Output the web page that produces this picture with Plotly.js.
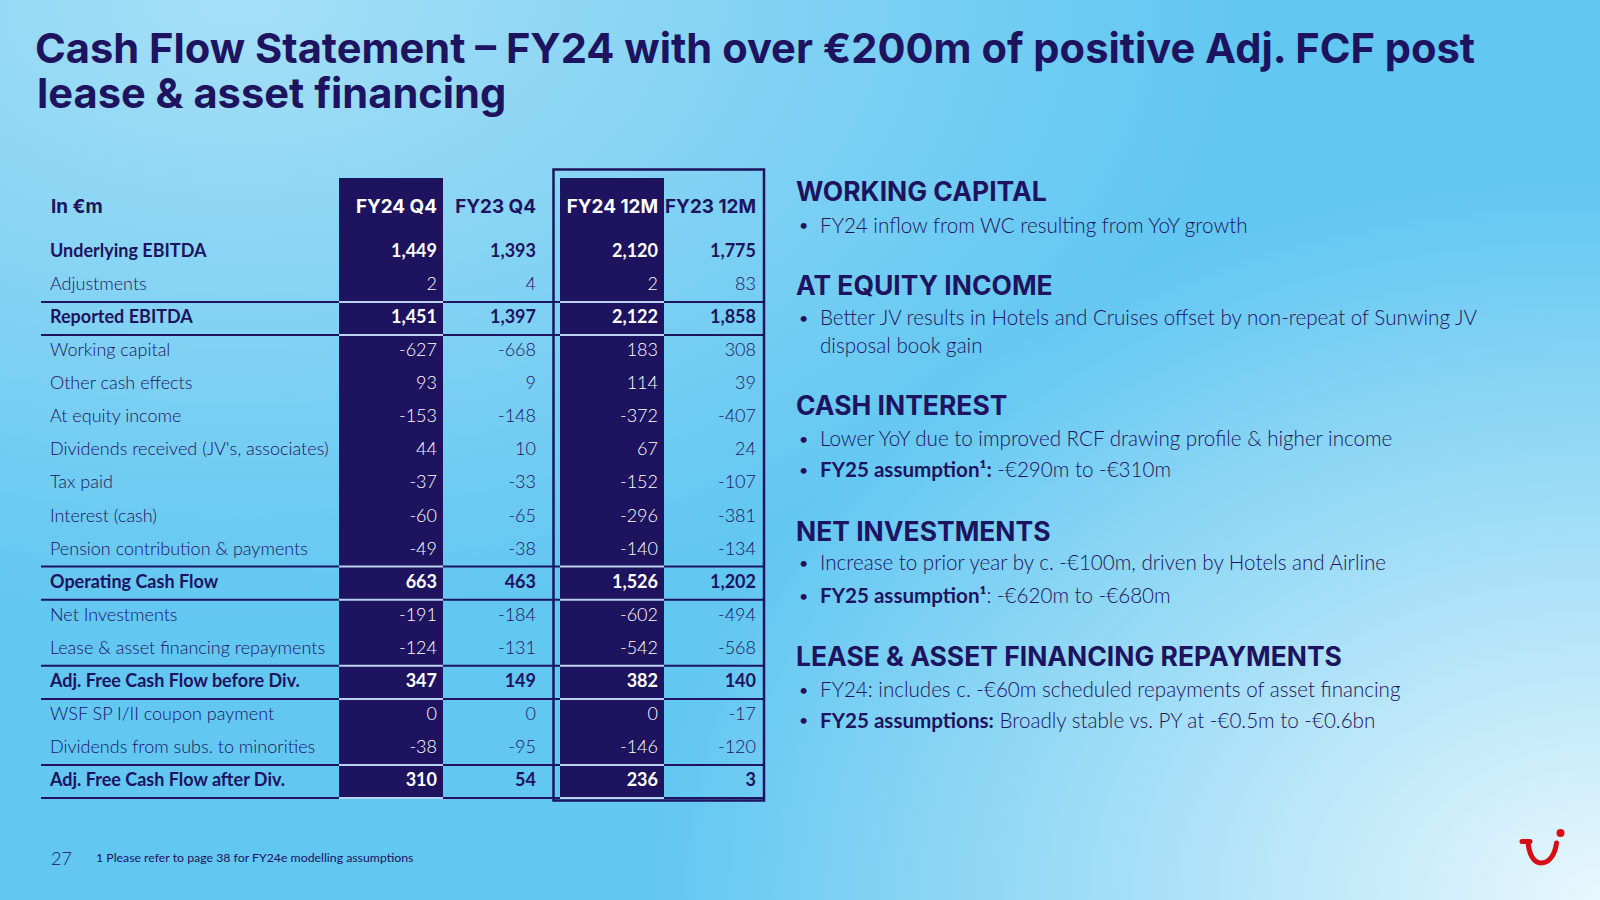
<!DOCTYPE html>
<html>
<head>
<meta charset="utf-8">
<script src="https://cdn.plot.ly/plotly-3.0.1.min.js"></script>
<style>
  html, body { margin: 0; padding: 0; }
  #chart {
    width: 1600px; height: 900px;
    background:
      radial-gradient(ellipse 950px 720px at 100% 100%, rgba(232,247,253,1) 0%, rgba(196,234,250,0.75) 45%, rgba(196,234,250,0) 100%),
      radial-gradient(ellipse 1000px 620px at 15% 0%, rgba(166,223,247,1) 0%, rgba(166,223,247,0) 100%),
      #62c7f1;
  }
</style>
</head>
<body>
<div id="chart"></div>
<script>
// ---------------- DATA ----------------
const cornerLabel = 'In €m';
const colHeaders = ['FY24 Q4', 'FY23 Q4', 'FY24 12M', 'FY23 12M'];
const rowLabels = [
  'Underlying EBITDA', 'Adjustments', 'Reported EBITDA', 'Working capital',
  'Other cash effects', 'At equity income', "Dividends received (JV's, associates)",
  'Tax paid', 'Interest (cash)', 'Pension contribution & payments',
  'Operating Cash Flow', 'Net Investments', 'Lease & asset financing repayments',
  'Adj. Free Cash Flow before Div.', 'WSF SP I/II coupon payment',
  'Dividends from subs. to minorities', 'Adj. Free Cash Flow after Div.'
];
const fy24Q4  = [1449, 2, 1451, -627, 93, -153, 44, -37, -60, -49, 663, -191, -124, 347, 0, -38, 310];
const fy23Q4  = [1393, 4, 1397, -668, 9, -148, 10, -33, -65, -38, 463, -184, -131, 149, 0, -95, 54];
const fy24_12M = [2120, 2, 2122, 183, 114, -372, 67, -152, -296, -140, 1526, -602, -542, 382, 0, -146, 236];
const fy23_12M = [1775, 83, 1858, 308, 39, -407, 24, -107, -381, -134, 1202, -494, -568, 140, -17, -120, 3];
const totalRows = ['Underlying EBITDA', 'Reported EBITDA', 'Operating Cash Flow',
                   'Adj. Free Cash Flow before Div.', 'Adj. Free Cash Flow after Div.'];

const titleLines = ['Cash Flow Statement – FY24 with over €200m of positive Adj. FCF post',
                    'lease & asset financing'];
const noteHeads = ['WORKING CAPITAL', 'AT EQUITY INCOME', 'CASH INTEREST', 'NET INVESTMENTS',
                   'LEASE & ASSET FINANCING REPAYMENTS'];
const noteBullets = [
  ['FY24 inflow from WC resulting from YoY growth'],
  ['Better JV results in Hotels and Cruises offset by non-repeat of Sunwing JV|disposal book gain'],
  ['Lower YoY due to improved RCF drawing profile & higher income',
   '<b>FY25 assumption¹:</b> -€290m to -€310m'],
  ['Increase to prior year by c. -€100m, driven by Hotels and Airline',
   '<b>FY25 assumption¹</b>: -€620m to -€680m'],
  ['FY24: includes c. -€60m scheduled repayments of asset financing',
   '<b>FY25 assumptions:</b> Broadly stable vs. PY at -€0.5m to -€0.6bn']
];
const pageNumber = '27';
const footnote = '1 Please refer to page 38 for FY24e modelling assumptions';

// ---------------- STYLE / LAYOUT ----------------
const NAVY = '#1e135e';
const W = 1600, H = 900;
const ROW_H = 33.07, ROW_TOP0 = 235.9;          // pixel geometry of the table grid
const py = p => (p - ROW_TOP0) / ROW_H - 0.5;     // pixel -> row units
const ppy = p => 1 - p / H;                        // pixel -> paper
const FONT = 'Lato, "Open Sans", sans-serif';
const HEAD_FONT = 'Inter, Lato, sans-serif';
const colRight = [437, 536, 658, 756];             // right edges for numeric text
const darkCols = [[339, 443], [560, 664]];
const lightSegs = [[41, 339], [443, 560], [664, 763]];
const headerY = py(208);

// size a display font so a reference string spans a target width
const ctx = document.createElement('canvas').getContext('2d');
function fitSize(text, weight, family, target) {
  ctx.font = weight + ' 100px ' + family;
  return 100 * target / ctx.measureText(text).width;
}
const titleSize = Math.min(44, Math.max(34, fitSize(titleLines[0], 700, HEAD_FONT, 1442)));
const headSize = Math.min(30, Math.max(22, fitSize(noteHeads[4], 700, HEAD_FONT, 546)));
const colHeadSize = Math.min(20, Math.max(15, fitSize(colHeaders[3], 700, HEAD_FONT, 91)));

const fmt = v => (v < 0 ? '-' : '') + Math.abs(v).toLocaleString('en-US');
const isTotal = rowLabels.map(l => totalRows.includes(l));
const rowIdx = rowLabels.map((_, i) => i);

const traces = [];
// row labels
traces.push({
  type: 'scatter', mode: 'text', x: rowLabels.map(() => 50), y: rowIdx,
  text: rowLabels.map((l, i) => isTotal[i] ? '<b>' + l + '</b>' : l),
  textposition: 'middle right', cliponaxis: false, hoverinfo: 'skip', showlegend: false,
  textfont: { family: FONT, size: 18, color: NAVY, weight: 300 }
});
// numeric columns
const series = [fy24Q4, fy23Q4, fy24_12M, fy23_12M];
series.forEach((vals, c) => {
  const onDark = (c === 0 || c === 2);
  traces.push({
    type: 'scatter', mode: 'text', x: vals.map(() => colRight[c]), y: rowIdx,
    text: vals.map((v, i) => isTotal[i] ? '<b>' + fmt(v) + '</b>' : fmt(v)),
    textposition: 'middle left', cliponaxis: false, hoverinfo: 'skip', showlegend: false,
    textfont: { family: FONT, size: 18, color: onDark ? '#ffffff' : NAVY, weight: 300 }
  });
});
// header row
traces.push({
  type: 'scatter', mode: 'text', x: colRight, y: colHeaders.map(() => headerY),
  text: colHeaders.map(h => '<b>' + h + '</b>'),
  textposition: 'middle left', cliponaxis: false, hoverinfo: 'skip', showlegend: false,
  textfont: { family: HEAD_FONT, size: colHeadSize, color: ['#ffffff', NAVY, '#ffffff', NAVY] }
});
traces.push({
  type: 'scatter', mode: 'text', x: [51], y: [headerY], text: ['<b>' + cornerLabel + '</b>'],
  textposition: 'middle right', cliponaxis: false, hoverinfo: 'skip', showlegend: false,
  textfont: { family: HEAD_FONT, size: colHeadSize, color: NAVY }
});

// shapes: dark columns, separators, box
const shapes = [];
darkCols.forEach(([a, b]) => shapes.push({
  type: 'rect', xref: 'x', yref: 'y', x0: a, x1: b, y0: py(178), y1: rowLabels.length - 0.5,
  fillcolor: NAVY, line: { width: 0 }, layer: 'below'
}));
const sepY = [];
isTotal.forEach((t, i) => { if (t && i > 0) { sepY.push(i - 0.5, i + 0.5); } });
sepY.forEach(y => {
  lightSegs.forEach(([a, b]) => shapes.push({ type: 'line', xref: 'x', yref: 'y', x0: a, x1: b, y0: y, y1: y,
    line: { color: NAVY, width: 2 } }));
  darkCols.forEach(([a, b]) => shapes.push({ type: 'line', xref: 'x', yref: 'y', x0: a, x1: b, y0: y, y1: y,
    line: { color: '#b9d3ee', width: 2 } }));
});
shapes.push({ type: 'rect', xref: 'x', yref: 'y', x0: 553.5, x1: 764, y0: py(169.5), y1: py(800.5),
  line: { color: NAVY, width: 2.5 }, fillcolor: 'rgba(0,0,0,0)' });

// annotations: title line 2, notes, footer
const annotations = [];
annotations.push({ xref: 'x', yref: 'paper', x: 35, y: ppy(93), xanchor: 'left', yanchor: 'middle',
  text: titleLines[1], showarrow: false, font: { family: HEAD_FONT, size: titleSize, color: NAVY, weight: 700 } });

const headY = [191, 285, 405, 531, 656];
const bulletY = [[224.5], [317, 345], [438, 469], [562, 595], [689, 719.5]];
noteHeads.forEach((h, k) => {
  annotations.push({ xref: 'x', yref: 'paper', x: 794, y: ppy(headY[k]), xanchor: 'left', yanchor: 'middle',
    text: '<b>' + h + '</b>', showarrow: false, font: { family: HEAD_FONT, size: headSize, color: NAVY } });
  let li = 0;
  noteBullets[k].forEach(b => {
    b.split('|').forEach((line, j) => {
      const y = ppy(bulletY[k][li]);
      if (j === 0) {
        annotations.push({ xref: 'x', yref: 'paper', x: 797, y: y, xanchor: 'left', yanchor: 'middle',
          text: '•', showarrow: false, font: { family: FONT, size: 16, color: NAVY } });
      }
      annotations.push({ xref: 'x', yref: 'paper', x: 818, y: y, xanchor: 'left', yanchor: 'middle',
        text: line, showarrow: false, font: { family: FONT, size: 20.6, color: NAVY, weight: 300 } });
      li++;
    });
  });
});
annotations.push({ xref: 'x', yref: 'paper', x: 49, y: ppy(858), xanchor: 'left', yanchor: 'middle',
  text: pageNumber, showarrow: false, font: { family: FONT, size: 18, color: NAVY, weight: 300 } });
annotations.push({ xref: 'x', yref: 'paper', x: 94, y: ppy(857), xanchor: 'left', yanchor: 'middle',
  text: footnote, showarrow: false, font: { family: FONT, size: 12.3, color: NAVY } });

// logo
const logoSvg = '<svg xmlns="http://www.w3.org/2000/svg" width="120" height="100" viewBox="0 0 120 100">' +
  '<g fill="none" stroke="#d40e14" stroke-width="5" stroke-linecap="round">' +
  '<line x1="42" y1="41.5" x2="50" y2="41.5"/>' +
  '<path d="M48 41.5 C49 55 54 63 61 63 C69 63 75 55 76.5 43"/></g>' +
  '<circle cx="80.5" cy="33" r="4" fill="#d40e14"/></svg>';

const layout = {
  width: W, height: H,
  margin: { l: 0, r: 0, t: 0, b: 0 },
  paper_bgcolor: 'rgba(0,0,0,0)', plot_bgcolor: 'rgba(0,0,0,0)',
  showlegend: false,
  title: { text: titleLines[0], x: 35 / W, xref: 'paper', xanchor: 'left', y: 1 - 48 / H, yref: 'container',
    yanchor: 'middle', font: { family: HEAD_FONT, size: titleSize, color: NAVY, weight: 700 } },
  xaxis: { range: [0, W], visible: false, fixedrange: true },
  yaxis: { range: [py(H), py(0)], visible: false, fixedrange: true },
  shapes: shapes,
  annotations: annotations,
  images: [{ source: 'data:image/svg+xml;charset=utf-8,' + encodeURIComponent(logoSvg),
    xref: 'paper', yref: 'paper', x: 1480 / W, y: 1 - 800 / H, sizex: 120 / W, sizey: 100 / H,
    xanchor: 'left', yanchor: 'top', sizing: 'stretch', layer: 'above' }]
};

Plotly.newPlot('chart', traces, layout, { displayModeBar: false, staticPlot: true });
</script>
</body>
</html>
